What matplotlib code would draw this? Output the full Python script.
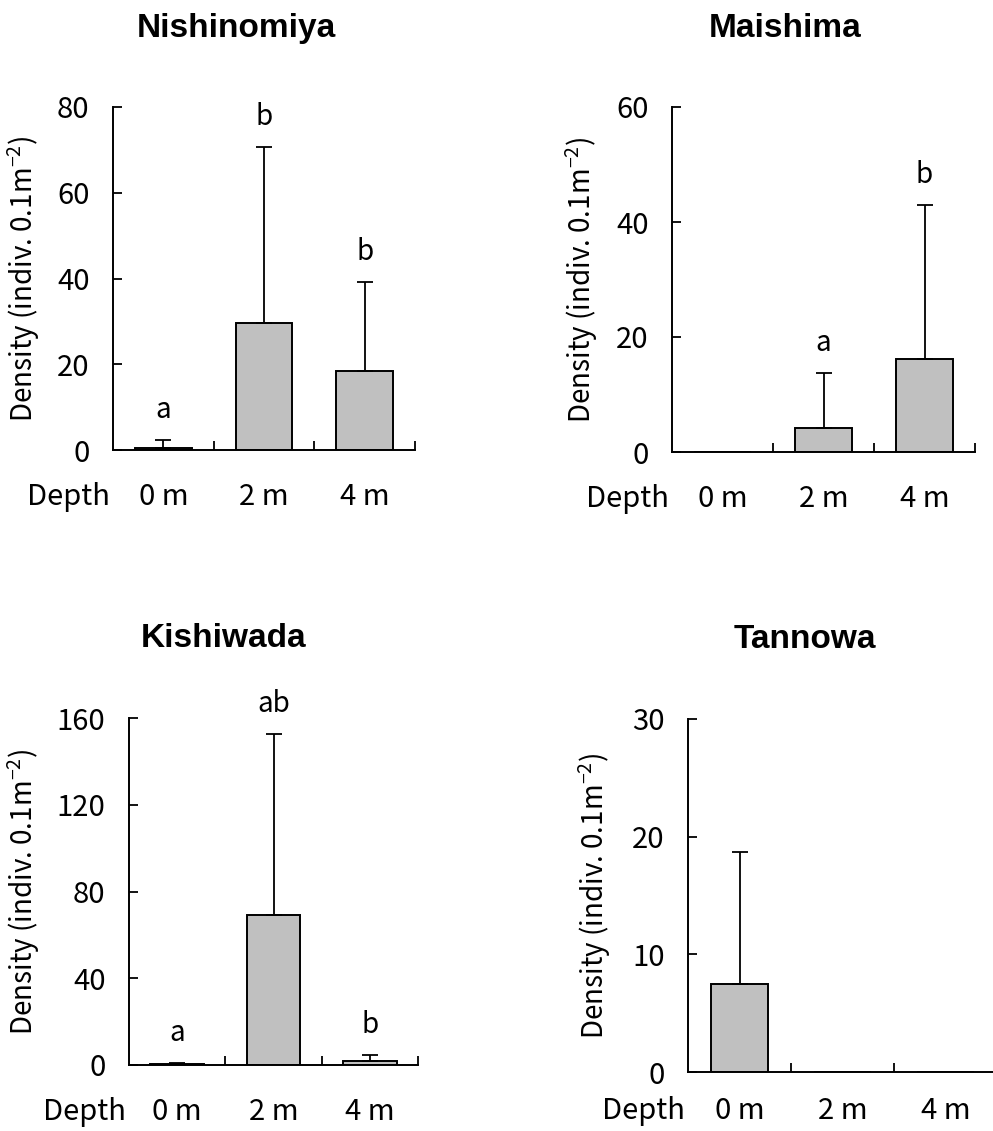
import numpy as np
import matplotlib
matplotlib.use("Agg")
import matplotlib.pyplot as plt

plt.rcParams["font.family"] = ["Noto Sans CJK JP", "DejaVu Sans"]
plt.rcParams["mathtext.fontset"] = "custom"
plt.rcParams["mathtext.rm"] = "Noto Sans CJK JP"
plt.rcParams["mathtext.it"] = "Noto Sans CJK JP"

depths = ["0 m", "2 m", "4 m"]

sites = ["Nishinomiya", "Maishima", "Kishiwada", "Tannowa"]
means = {
    "Nishinomiya": [0.5, 29.7, 18.5],
    "Maishima": [0.0, 4.1, 16.2],
    "Kishiwada": [0.3, 69.1, 1.8],
    "Tannowa": [7.5, 0.0, 0.0],
}
# upper standard deviations
sds = {
    "Nishinomiya": [1.8, 41.0, 20.6],
    "Maishima": [0.0, 9.7, 26.8],
    "Kishiwada": [0.7, 83.7, 2.8],
    "Tannowa": [11.2, 0.0, 0.0],
}
letters = {
    "Nishinomiya": ["a", "b", "b"],
    "Maishima": ["", "a", "b"],
    "Kishiwada": ["a", "ab", "b"],
    "Tannowa": ["", "", ""],
}
ymax = {"Nishinomiya": 80, "Maishima": 60, "Kishiwada": 160, "Tannowa": 30}
yticks = {
    "Nishinomiya": [0, 20, 40, 60, 80],
    "Maishima": [0, 20, 40, 60],
    "Kishiwada": [0, 40, 80, 120, 160],
    "Tannowa": [0, 10, 20, 30],
}

W, H = 993, 1131
fig = plt.figure(figsize=(W / 100, H / 100), dpi=100)

# axes boxes in pixels: left, right, top, bottom
boxes = {
    "Nishinomiya": (113, 415, 107, 450),
    "Maishima": (672, 975, 107, 452),
    "Kishiwada": (129, 418, 718, 1065),
    "Tannowa": (688, 997, 719, 1072),
}
titles_xy = {
    "Nishinomiya": (236, 37),
    "Maishima": (785, 37),
    "Kishiwada": (224, 647),
    "Tannowa": (805, 648),
}
ylabel_right = {"Nishinomiya": 42, "Maishima": 600, "Kishiwada": 42, "Tannowa": 613}
# gap between x axis and the depth labels, points
xpad = {"Nishinomiya": 23, "Maishima": 23, "Kishiwada": 23, "Tannowa": 17}

x = np.arange(3) + 0.5
for site in sites:
    l, r, t, b = boxes[site]
    ax = fig.add_axes([l / W, 1 - b / H, (r - l) / W, (b - t) / H])
    m = np.array(means[site])
    e = np.array(sds[site])
    ax.bar(x, m, width=0.56, color="#c0c0c0", edgecolor="black", linewidth=1.4, zorder=2)
    show = e > 0
    ax.errorbar(x[show], m[show], yerr=[np.zeros(show.sum()), e[show]], fmt="none",
                ecolor="black", elinewidth=1.3, capsize=6, capthick=1.3, zorder=3)
    for xi, mi, ei, lab in zip(x, m, e, letters[site]):
        if lab:
            ax.annotate(lab, xy=(xi, mi + ei), xytext=(0, 22), textcoords="offset pixels",
                        ha="center", va="baseline", fontsize=20)

    ax.set_xlim(0, 3)
    ax.set_ylim(0, ymax[site])
    ax.set_yticks(yticks[site])
    ax.set_xticks(x)
    ax.set_xticklabels(depths)
    ax.set_xticks([1, 2, 3], minor=True)
    ax.tick_params(axis="x", which="major", length=0, pad=xpad[site], labelsize=21)
    ax.tick_params(axis="x", which="minor", direction="in", length=6.5, width=1.3)
    ax.tick_params(axis="y", direction="in", length=6.5, width=1.3, pad=17, labelsize=21)
    for s in ["top", "right"]:
        ax.spines[s].set_visible(False)
    for s in ["left", "bottom"]:
        ax.spines[s].set_linewidth(1.4)

    ax.annotate("Depth", xy=(0, 0), xycoords="axes fraction", xytext=(-2, -xpad[site]),
                textcoords="offset points", ha="right", va="top", fontsize=21)

    ax.set_ylabel(r"Density (indiv. 0.1m$^{-2}$)", fontsize=20)
    ax.yaxis.set_label_coords((ylabel_right[site] - l) / (r - l), 0.5)

    tx, ty = titles_xy[site]
    fig.text(tx / W, 1 - ty / H, site, ha="center", va="baseline", fontsize=24,
             family="Liberation Sans", fontweight="bold")

fig.savefig("out.png", dpi=100)
